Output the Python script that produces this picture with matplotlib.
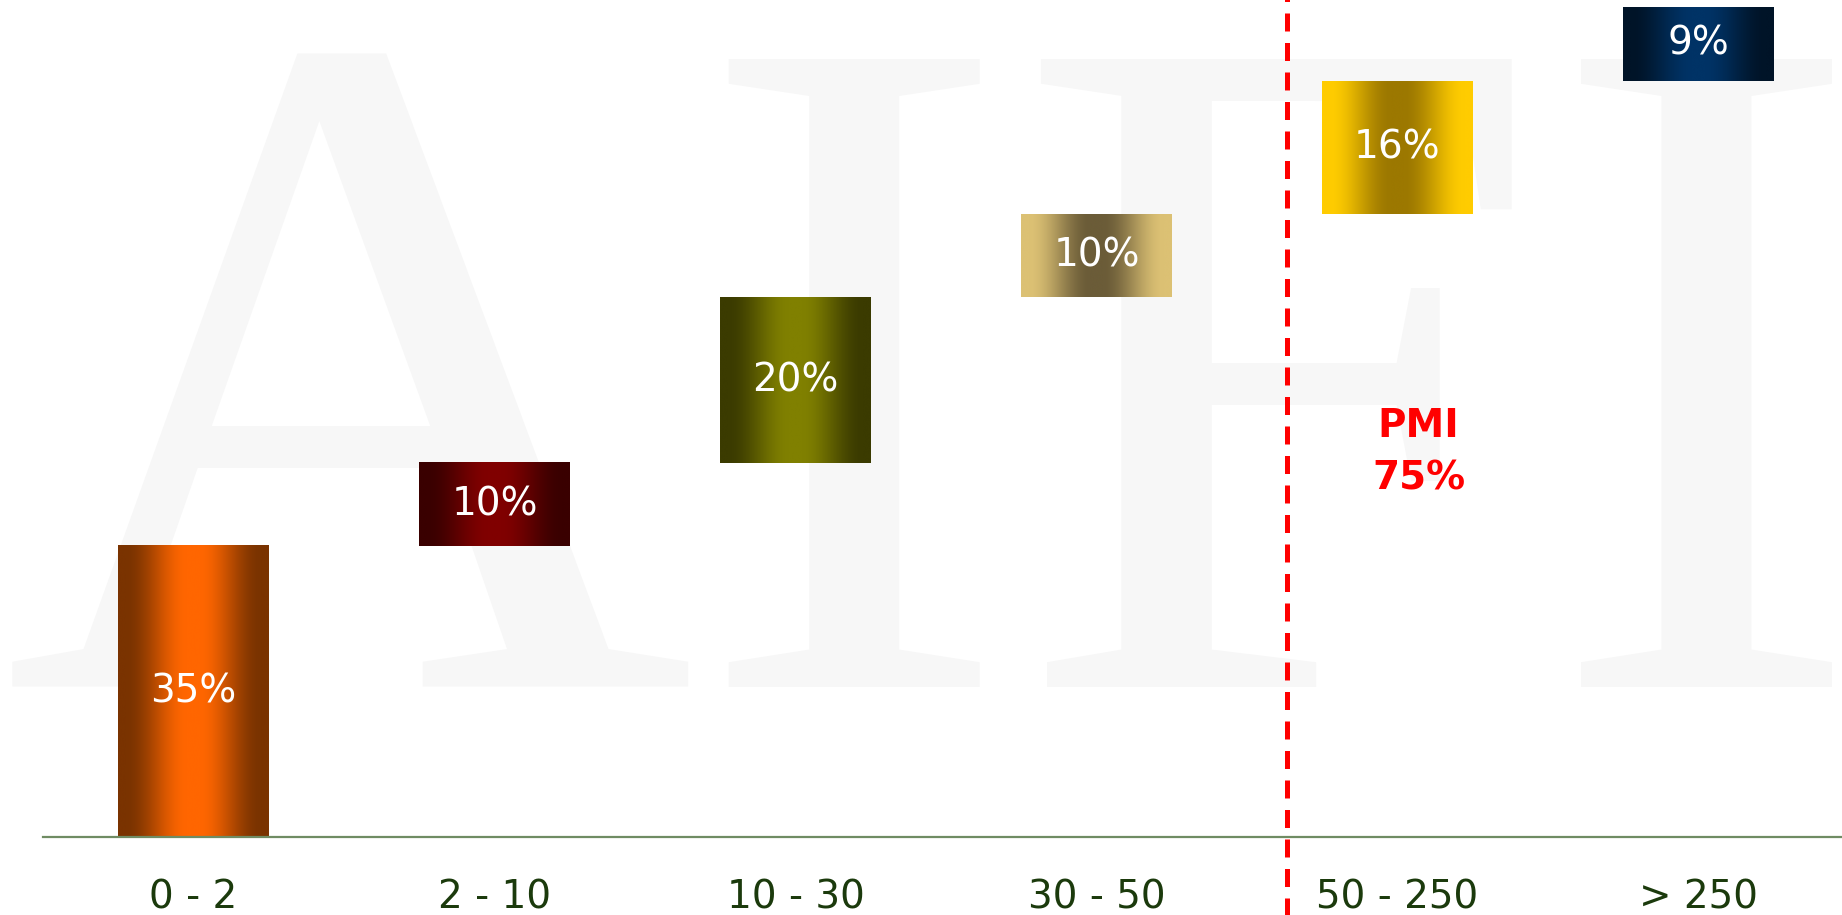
import numpy as np
import matplotlib
matplotlib.use("Agg")
import matplotlib.pyplot as plt
from matplotlib.colors import LinearSegmentedColormap

# waterfall: share of companies by size class (mln euro)
categories = ["0 - 2", "2 - 10", "10 - 30", "30 - 50", "50 - 250", "> 250"]
values = [35, 10, 20, 10, 16, 9]
labels = ["35%", "10%", "20%", "10%", "16%", "9%"]
# (edge colour, centre colour) for the horizontal gradient of each bar
bar_colors = [
    ("#7a3300", "#ff6600"),
    ("#3a0000", "#800000"),
    ("#3b3b00", "#808000"),
    ("#dcc174", "#6b5c38"),
    ("#ffcc00", "#9c7800"),
    ("#001428", "#003366"),
]
pmi_text = "PMI\n75%"
watermark = "AIFI"

W, H = 1842, 915
fig = plt.figure(figsize=(W / 100, H / 100), dpi=100)
fig.patch.set_facecolor("white")

# big pale watermark behind the chart
fig.text(3 / W, (H - 687) / H, watermark, family="Liberation Serif", fontsize=690,
         color="#f7f7f7", ha="left", va="baseline", zorder=-5)

ax = fig.add_axes([43 / W, (H - 836.5) / H, 1806 / W, 830 / H])
ax.patch.set_alpha(0)
ax.set_xlim(-0.5, 5.5)
ax.set_ylim(0, 100)

bottoms = np.concatenate([[0], np.cumsum(values)[:-1]])
width = 0.5
x = np.abs(np.linspace(-1, 1, 256))
t = np.clip((x - 0.08) / 0.82, 0, 1)
grad = (t * t * (3 - 2 * t)).reshape(1, -1)
for i, (v, b, (edge, centre), lab) in enumerate(zip(values, bottoms, bar_colors, labels)):
    cmap = LinearSegmentedColormap.from_list(f"g{i}", [centre, edge])
    ax.imshow(grad, cmap=cmap, aspect="auto", interpolation="bicubic",
              extent=[i - width / 2, i + width / 2, b, b + v], zorder=2)
    ax.text(i, b + v / 2, lab, ha="center", va="center", color="white",
            fontsize=28, family="DejaVu Sans", zorder=3)

# PMI threshold
ax.axvline(3.633, ymin=-0.1, ymax=1.01, color="#ff0000", lw=3.6,
           dashes=(3.6, 2.3), clip_on=False, zorder=4)
ax.text(4.07, 46.3, pmi_text, ha="center", va="center", color="#ff0000",
        fontsize=28, weight="bold", family="DejaVu Sans", linespacing=1.5)

ax.set_xticks(range(len(categories)))
ax.set_xticklabels(categories, fontsize=28, color="#1b3a0c", family="DejaVu Sans")
ax.tick_params(axis="x", length=0, pad=30)
ax.set_yticks([])
for s in ["top", "left", "right"]:
    ax.spines[s].set_visible(False)
ax.spines["bottom"].set_color("#6f8c63")
ax.spines["bottom"].set_linewidth(1.6)

fig.savefig("out.png", dpi=100)
